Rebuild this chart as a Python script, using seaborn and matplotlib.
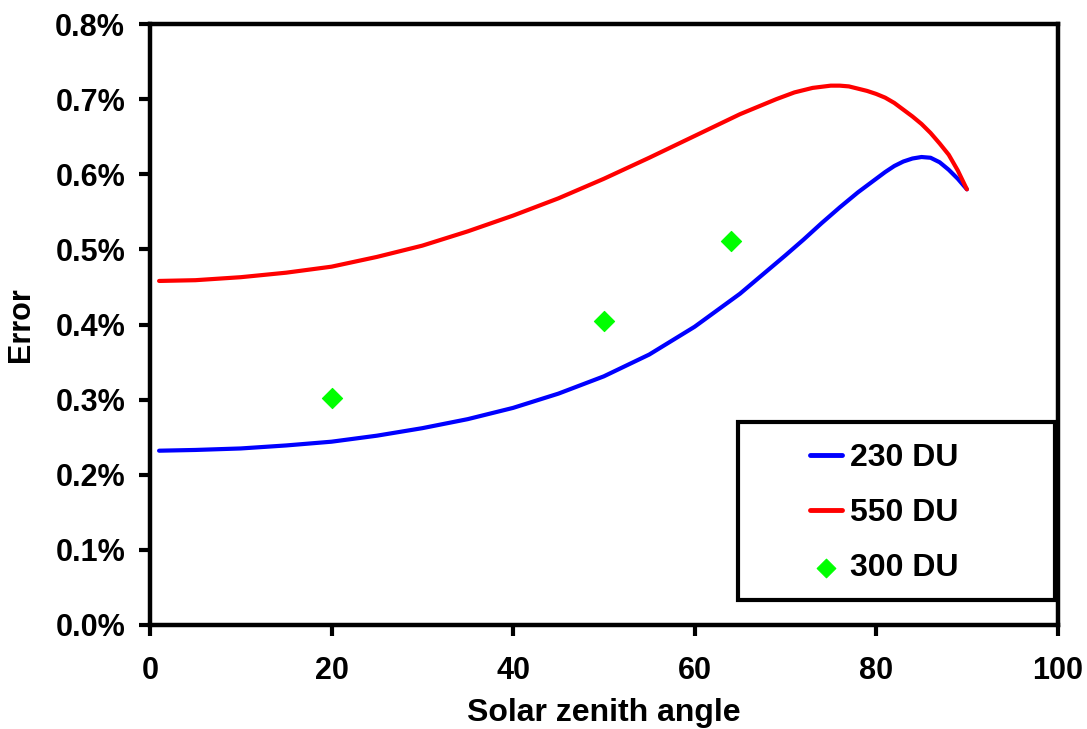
import matplotlib
matplotlib.use('Agg')
import matplotlib.pyplot as plt
import seaborn as sns
import pandas as pd
from matplotlib.patches import Rectangle
from matplotlib.ticker import FuncFormatter

# Data (error in %)
sza_230 = [1, 5, 10, 15, 20, 25, 30, 35, 40, 45, 50, 55, 60, 65, 70, 72, 74, 76, 78, 80,
           81, 82, 83, 84, 85, 86, 87, 88, 89, 90]
err_230 = [0.232, 0.233, 0.235, 0.239, 0.244, 0.252, 0.262, 0.274, 0.289, 0.308, 0.331, 0.360,
           0.397, 0.441, 0.492, 0.513, 0.535, 0.556, 0.576, 0.594, 0.603, 0.611, 0.617, 0.621,
           0.623, 0.622, 0.616, 0.606, 0.594, 0.580]

sza_550 = [1, 5, 10, 15, 20, 25, 30, 35, 40, 45, 50, 55, 60, 65, 67, 69, 71, 73, 75, 76, 77,
           78, 79, 80, 81, 82, 83, 84, 85, 86, 87, 88, 89, 90]
err_550 = [0.458, 0.459, 0.463, 0.469, 0.477, 0.490, 0.505, 0.524, 0.545, 0.568, 0.594, 0.622,
           0.651, 0.680, 0.690, 0.700, 0.709, 0.715, 0.718, 0.718, 0.717, 0.714, 0.711, 0.707,
           0.702, 0.695, 0.686, 0.677, 0.667, 0.655, 0.641, 0.626, 0.605, 0.580]

sza_300 = [20, 50, 64]
err_300 = [0.302, 0.405, 0.511]

sns.set_style('white')
plt.rcParams['font.family'] = ['Liberation Sans', 'DejaVu Sans']
plt.rcParams['font.weight'] = 'bold'
for k in ['text.color', 'axes.labelcolor', 'xtick.color', 'ytick.color']:
    plt.rcParams[k] = 'black'

fig = plt.figure(figsize=(10.87, 7.29), dpi=100)
ax = fig.add_axes([0.138, 0.1427, 0.835, 0.8243])

df230 = pd.DataFrame({'sza': sza_230, 'err': err_230})
df550 = pd.DataFrame({'sza': sza_550, 'err': err_550})
df300 = pd.DataFrame({'sza': sza_300, 'err': err_300})

sns.lineplot(data=df230, x='sza', y='err', color='#0000ff', linewidth=3, label='230 DU', ax=ax)
sns.lineplot(data=df550, x='sza', y='err', color='#ff0000', linewidth=3, label='550 DU', ax=ax)
sns.scatterplot(data=df300, x='sza', y='err', color='#00ff00', marker='D', s=105,
                edgecolor='#00ff00', label='300 DU', ax=ax, zorder=5)

ax.set_xlim(0, 100)
ax.set_ylim(0, 0.8)
ax.set_xticks(range(0, 101, 20))
ax.set_yticks([i / 10 for i in range(9)])
ax.yaxis.set_major_formatter(FuncFormatter(lambda v, p: f'{v:.1f}%'))

for s in ax.spines.values():
    s.set_linewidth(3.2)
    s.set_color('black')
ax.tick_params(axis='both', direction='out', length=8, width=3, labelsize=22, color='black',
               bottom=True, left=True)
ax.tick_params(axis='x', pad=14)
ax.tick_params(axis='y', pad=10)
for lab in ax.get_xticklabels() + ax.get_yticklabels():
    lab.set_fontweight('bold')

ax.set_xlabel('Solar zenith angle', fontsize=23, fontweight='bold', labelpad=9)
ax.set_ylabel('Error', fontsize=22, fontweight='bold', labelpad=14)

# legend box
ax.add_patch(Rectangle((0.6476, 0.0416), 0.3491, 0.2962, transform=ax.transAxes,
                       facecolor='white', edgecolor='black', linewidth=3, zorder=6, clip_on=False))
leg = ax.legend(loc='center left', bbox_to_anchor=(0.7269, 0.1863), prop={'size': 23, 'weight': 'bold'},
                frameon=False, borderpad=0, borderaxespad=0, labelspacing=0.78,
                handlelength=1.0, handletextpad=0.25)
leg.set_zorder(7)
for h in leg.legend_handles:
    if hasattr(h, 'set_sizes'):
        h.set_sizes([90])
    elif hasattr(h, 'set_linewidth'):
        h.set_linewidth(3.5)

fig.savefig('out.png', dpi=100)
plt.close(fig)
